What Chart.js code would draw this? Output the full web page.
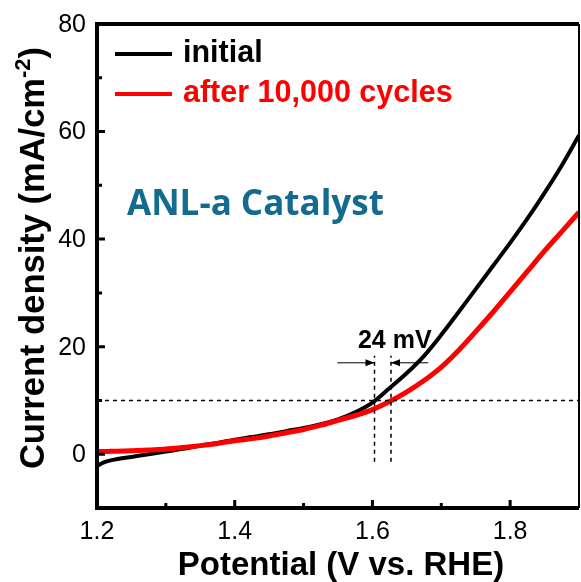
<!DOCTYPE html>
<html>
<head>
<meta charset="utf-8">
<script src="https://cdn.jsdelivr.net/npm/chart.js@4.4.0/dist/chart.umd.min.js"></script>
<style>
  html, body { margin: 0; padding: 0; background: #fff; }
  #wrap { width: 581px; height: 582px; }
</style>
</head>
<body>
<div id="wrap"><canvas id="chart1"></canvas></div>
<script>
// potential (V vs. RHE)
var potential = [1.20, 1.21, 1.225, 1.25, 1.275, 1.30, 1.325, 1.35, 1.375, 1.40, 1.425, 1.45, 1.475, 1.50, 1.525, 1.55, 1.575, 1.60, 1.625, 1.65, 1.675, 1.70, 1.725, 1.75, 1.775, 1.80, 1.825, 1.85, 1.875, 1.90];
// current density, mA/cm-2
var initialCurrent = [-2.2, -1.5, -1.0, -0.5, 0.0, 0.5, 1.0, 1.6, 2.1, 2.7, 3.2, 3.7, 4.3, 4.9, 5.6, 6.5, 7.8, 9.6, 12.3, 15.1, 18.3, 22.2, 26.4, 30.7, 35.0, 39.3, 43.8, 48.6, 53.7, 59.3];
var cycledCurrent  = [0.5, 0.5, 0.55, 0.65, 0.8, 0.95, 1.25, 1.6, 2.0, 2.5, 2.9, 3.4, 4.0, 4.6, 5.4, 6.3, 7.2, 8.3, 9.8, 11.6, 13.7, 16.2, 19.3, 22.8, 26.4, 30.2, 34.0, 37.8, 41.4, 45.0];

var seriesNames = ['initial', 'after 10,000 cycles'];
var xTicks = [1.2, 1.4, 1.6, 1.8];
var xMinor = [1.3, 1.5, 1.7];
var yTicks = [0, 20, 40, 60, 80];
var yMinor = [10, 30, 50, 70];

// annotation: 10 mA/cm2 level and the two onset potentials
var refCurrent = 10;
var onsetInitial = 1.603;
var onsetCycled = 1.627;
var shiftLabel = '24 mV';
var catalystName = 'ANL-a Catalyst';

function toPoints(xs, ys) {
  return xs.map(function (x, i) { return {x: x, y: ys[i]}; });
}

var framePlugin = {
  id: 'frame',
  afterDraw: function (chart) {
    var ctx = chart.ctx;
    var xs = chart.scales.x, ys = chart.scales.y;
    var a = chart.chartArea;
    ctx.save();

    // dashed guide lines
    ctx.strokeStyle = '#000';
    ctx.lineWidth = 1.5;
    ctx.setLineDash([4, 4]);
    ctx.beginPath();
    ctx.moveTo(xs.getPixelForValue(1.2), ys.getPixelForValue(refCurrent));
    ctx.lineTo(xs.getPixelForValue(1.9), ys.getPixelForValue(refCurrent));
    [onsetInitial, onsetCycled].forEach(function (v) {
      ctx.moveTo(xs.getPixelForValue(v), ys.getPixelForValue(-1.4));
      ctx.lineTo(xs.getPixelForValue(v), ys.getPixelForValue(18.3));
    });
    ctx.stroke();
    ctx.setLineDash([]);

    // arrows
    var ay = ys.getPixelForValue(17);
    function arrow(fromX, toX) {
      var x0 = xs.getPixelForValue(fromX), x1 = xs.getPixelForValue(toX);
      var dir = x1 > x0 ? 1 : -1;
      ctx.lineWidth = 1;
      ctx.beginPath();
      ctx.moveTo(x0, ay);
      ctx.lineTo(x1, ay);
      ctx.stroke();
      ctx.beginPath();
      ctx.moveTo(x1, ay);
      ctx.lineTo(x1 - dir * 9, ay - 3.5);
      ctx.lineTo(x1 - dir * 9, ay + 3.5);
      ctx.closePath();
      ctx.fill();
    }
    ctx.fillStyle = '#000';
    arrow(1.549, onsetInitial);
    arrow(1.681, onsetCycled);

    ctx.font = 'bold 25px "Liberation Sans", Arial, sans-serif';
    ctx.textAlign = 'center';
    ctx.textBaseline = 'middle';
    ctx.fillText(shiftLabel, (xs.getPixelForValue(onsetInitial) + xs.getPixelForValue(onsetCycled)) / 2 + 12, ys.getPixelForValue(21.0));

    // catalyst label
    ctx.fillStyle = '#136b8f';
    ctx.font = 'bold 35px "Open Sans", sans-serif';
    ctx.textAlign = 'left';
    ctx.fillText(catalystName, 127, 205);

    // legend
    var legendY = [54, 94];
    chart.data.datasets.slice().sort(function (p, q) { return p.legendIndex - q.legendIndex; }).forEach(function (ds, i) {
      ctx.strokeStyle = ds.borderColor;
      ctx.lineWidth = 4;
      ctx.beginPath();
      ctx.moveTo(115, legendY[i]);
      ctx.lineTo(172, legendY[i]);
      ctx.stroke();
      ctx.fillStyle = ds.borderColor;
      ctx.font = 'bold 30.5px "Liberation Sans", Arial, sans-serif';
      ctx.fillText(ds.label, 183, legendY[i]);
    });

    // frame
    ctx.strokeStyle = '#000';
    ctx.lineWidth = 4;
    ctx.beginPath();
    ctx.moveTo(a.right, a.top);
    ctx.lineTo(a.left, a.top);
    ctx.lineTo(a.left, a.bottom);
    ctx.lineTo(a.right, a.bottom);
    ctx.stroke();
    ctx.lineWidth = 2;
    ctx.beginPath();
    ctx.moveTo(a.right, a.top);
    ctx.lineTo(a.right, a.bottom);
    ctx.stroke();

    // inward ticks
    ctx.lineWidth = 3;
    ctx.beginPath();
    xTicks.forEach(function (v) {
      var px = xs.getPixelForValue(v);
      ctx.moveTo(px, a.bottom); ctx.lineTo(px, a.bottom - 8);
    });
    xMinor.forEach(function (v) {
      var px = xs.getPixelForValue(v);
      ctx.moveTo(px, a.bottom); ctx.lineTo(px, a.bottom - 5);
    });
    yTicks.forEach(function (v) {
      var py = ys.getPixelForValue(v);
      ctx.moveTo(a.left, py); ctx.lineTo(a.left + 8, py);
    });
    yMinor.forEach(function (v) {
      var py = ys.getPixelForValue(v);
      ctx.moveTo(a.left, py); ctx.lineTo(a.left + 5, py);
    });
    ctx.stroke();

    // tick labels
    ctx.fillStyle = '#000';
    ctx.font = '25px "Liberation Sans", Arial, sans-serif';
    ctx.textAlign = 'right';
    ctx.textBaseline = 'middle';
    yTicks.forEach(function (v) {
      ctx.fillText(String(v), a.left - 11, ys.getPixelForValue(v) + 1);
    });
    ctx.textAlign = 'center';
    ctx.textBaseline = 'top';
    xTicks.forEach(function (v) {
      ctx.fillText(v.toFixed(1), xs.getPixelForValue(v), a.bottom + 12);
    });

    // axis titles
    ctx.font = 'bold 33px "Liberation Sans", Arial, sans-serif';
    ctx.textBaseline = 'alphabetic';
    ctx.fillText('Potential (V vs. RHE)', (a.left + a.right) / 2 + 3, 575);

    ctx.translate(44, 258);
    ctx.rotate(-Math.PI / 2);
    var main = 'Current density (mA/cm', sup = '-2', tail = ')';
    var bigFont = 'bold 34.5px "Liberation Sans", Arial, sans-serif';
    var supFont = 'bold 22px "Liberation Sans", Arial, sans-serif';
    ctx.font = bigFont;
    var w1 = ctx.measureText(main).width, w3 = ctx.measureText(tail).width;
    ctx.font = supFont;
    var w2 = ctx.measureText(sup).width;
    var x0 = -(w1 + w2 + w3) / 2;
    ctx.textAlign = 'left';
    ctx.font = bigFont;
    ctx.fillText(main, x0, 0);
    ctx.font = supFont;
    ctx.fillText(sup, x0 + w1, -14);
    ctx.font = bigFont;
    ctx.fillText(tail, x0 + w1 + w2, 0);

    ctx.restore();
  }
};

var ctx = document.getElementById('chart1').getContext('2d');
var ivChart = new Chart(ctx, {
  type: 'line',
  data: {
    datasets: [{
      label: seriesNames[0],
      legendIndex: 0,
      data: toPoints(potential, initialCurrent),
      borderColor: '#000000',
      borderWidth: 4,
      order: 1
    }, {
      label: seriesNames[1],
      legendIndex: 1,
      data: toPoints(potential, cycledCurrent),
      borderColor: '#ff0000',
      borderWidth: 5,
      order: 0
    }]
  },
  options: {
    responsive: true,
    maintainAspectRatio: false,
    animation: false,
    layout: { padding: { top: 24, right: 2, left: 0, bottom: 0 } },
    elements: {
      point: { radius: 0 },
      line: { cubicInterpolationMode: 'monotone', fill: false }
    },
    plugins: {
      legend: { display: false },
      tooltip: { enabled: false }
    },
    scales: {
      x: {
        type: 'linear',
        min: 1.2,
        max: 1.9,
        grid: { display: false },
        border: { display: false },
        ticks: { display: false },
        afterFit: function (scale) { scale.height = 74; }
      },
      y: {
        type: 'linear',
        min: -10,
        max: 80,
        grid: { display: false },
        border: { display: false },
        ticks: { display: false },
        afterFit: function (scale) { scale.width = 97; }
      }
    }
  },
  plugins: [framePlugin]
});
</script>
</body>
</html>
